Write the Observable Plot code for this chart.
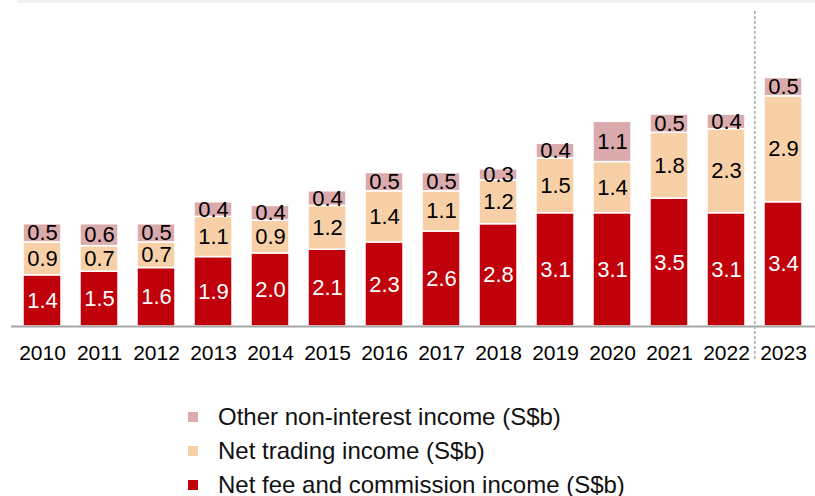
<!DOCTYPE html>
<html>
<head>
<meta charset="utf-8">
<script src="https://cdn.jsdelivr.net/npm/d3@7"></script>
<script src="https://cdn.jsdelivr.net/npm/@observablehq/plot@0.6"></script>
<style>
  html, body { margin: 0; padding: 0; background: #fff; }
  body { width: 815px; height: 496px; position: relative; font-family: Arial, "Liberation Sans", sans-serif; }
  #band { position: absolute; left: 17px; top: 0; width: 798px; height: 3px; background: #f2f2f2; }
  #chart { position: absolute; left: 0; top: 0; }
  #legend { position: absolute; left: 188px; top: 406px; font-size: 24px; color: #111; }
  .row { height: 22px; line-height: 22px; margin-bottom: 12px; display: flex; align-items: center; white-space: nowrap; }
  .sw { width: 10px; height: 10px; margin-right: 20px; flex: none; }
</style>
</head>
<body>
<div id="chart"></div>
<div id="band"></div>
<div id="legend"></div>
<script>
const years = ["2010","2011","2012","2013","2014","2015","2016","2017","2018","2019","2020","2021","2022","2023"];
const feeIncome     = [1.4,1.5,1.6,1.9,2.0,2.1,2.3,2.6,2.8,3.1,3.1,3.5,3.1,3.4];
const tradingIncome = [0.9,0.7,0.7,1.1,0.9,1.2,1.4,1.1,1.2,1.5,1.4,1.8,2.3,2.9];
const otherIncome   = [0.5,0.6,0.5,0.4,0.4,0.4,0.5,0.5,0.3,0.4,1.1,0.5,0.4,0.5];
const seriesNames = ["Net fee and commission income (S$b)", "Net trading income (S$b)", "Other non-interest income (S$b)"];
const seriesColors = ["#c0000b", "#f8d0a8", "#dbaaad"];
const labelColors = ["#ffffff", "#000000", "#000000"];
const dividerYear = "2023";

const seriesValues = [feeIncome, tradingIncome, otherIncome];
const rows = [];
years.forEach((y, i) => {
  seriesValues.forEach((vals, s) => {
    rows.push({year: y, series: seriesNames[s], idx: s, value: vals[i]});
  });
});

const W = 815, H = 372, mL = 11, mR = 0, mT = 11, mB = 46;
const yMax = 8.62;
const step = (W - mL - mR) / years.length;

const chart = Plot.plot({
  width: W, height: H,
  marginLeft: mL, marginRight: mR, marginTop: mT, marginBottom: mB,
  style: {fontFamily: 'Arial, "Liberation Sans", sans-serif', color: "#000", background: "transparent"},
  x: {domain: years, paddingInner: 0.33, paddingOuter: 0.165, align: 0.5, axis: null},
  y: {domain: [0, yMax], axis: null},
  color: {domain: seriesNames, range: seriesColors},
  marks: [
    Plot.barY(rows, Plot.stackY({order: null}, {x: "year", y: "value", z: "series", fill: "series", stroke: "#fff", strokeWidth: 1.5})),
    Plot.text(rows, Plot.stackY({order: null}, {x: "year", y: "value", z: "series", text: d => d.value.toFixed(1), fill: d => labelColors[d.idx], fontSize: 22})),
    Plot.ruleY([0], {stroke: "#a6a6a6", strokeWidth: 2}),
    Plot.ruleX([dividerYear], {dx: -step / 2, y1: -0.9, y2: yMax, stroke: "#a8a8a8", strokeWidth: 1.5, strokeDasharray: "3,2"}),
    Plot.axisX({tickSize: 0, tickPadding: 19, fontSize: 21, fill: "#000", label: null})
  ]
});
document.getElementById("chart").appendChild(chart);

const legend = document.getElementById("legend");
[2, 1, 0].forEach(s => {
  const r = document.createElement("div");
  r.className = "row";
  const sw = document.createElement("span");
  sw.className = "sw";
  sw.style.background = seriesColors[s];
  const t = document.createElement("span");
  t.textContent = seriesNames[s];
  r.appendChild(sw); r.appendChild(t);
  legend.appendChild(r);
});
</script>
</body>
</html>
